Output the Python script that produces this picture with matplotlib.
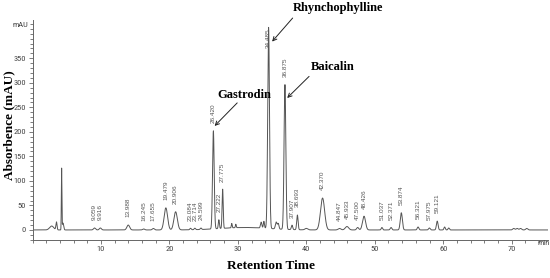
import numpy as np
import matplotlib
matplotlib.use("Agg")
import matplotlib.pyplot as plt
from matplotlib.ticker import MultipleLocator
from matplotlib import font_manager as fm

# Peak table: retention time (min), height (mAU), width (sigma, min)
peak_rt = [2.8, 3.5, 4.25, 4.45, 9.059, 9.916, 13.988, 16.245, 17.655, 19.479, 20.906,
           23.084, 23.714, 24.599, 26.420, 27.222, 27.775, 29.1, 29.7, 31.0, 33.4, 33.8,
           34.485, 35.6, 35.9, 36.875, 37.907, 38.693, 40.0, 42.370, 44.847, 45.933,
           47.500, 48.426, 51.037, 52.371, 53.874, 56.321, 57.975, 59.121, 60.2, 60.8,
           70.3, 70.8, 71.3, 72.2]
peak_height = [8, 16, 125, 14, 4, 4, 10, 2, 3, 45, 37,
               3, 3, 3, 200, 18, 80, 9, 7, 5, 12, 14,
               410, 14, 11, 295, 9, 30, 3, 65, 3, 7,
               5, 28, 5, 5, 35, 6, 4, 18, 6, 4,
               3, 3, 3, 3]
peak_sigma = [0.3, 0.08, 0.04, 0.1, 0.15, 0.15, 0.2, 0.15, 0.15, 0.25, 0.25,
              0.1, 0.1, 0.1, 0.12, 0.08, 0.08, 0.06, 0.06, 3.5, 0.1, 0.08,
              0.13, 0.12, 0.1, 0.13, 0.1, 0.1, 0.2, 0.3, 0.2, 0.25,
              0.15, 0.22, 0.1, 0.12, 0.15, 0.12, 0.12, 0.12, 0.1, 0.1,
              0.15, 0.15, 0.15, 0.15]

# Labelled peaks
label_rt = [9.059, 9.916, 13.988, 16.245, 17.655, 19.479, 20.906, 23.084, 23.714, 24.599,
            26.420, 27.222, 27.775, 34.485, 36.875, 37.907, 38.693, 42.370, 44.847, 45.933,
            47.500, 48.426, 51.037, 52.371, 53.874, 56.321, 57.975, 59.121]
label_text = ["9.059", "9.916", "13.988", "16.245", "17.655", "19.479", "20.906", "23.084",
              "23.714", "24.599", "26.420", "27.222", "27.775", "34.485", "36.875", "37.907",
              "38.693", "42.370", "44.847", "45.933", "47.500", "48.426", "51.037", "52.371",
              "53.874", "56.321", "57.975", "59.121"]

compounds = ["Gastrodin", "Rhynchophylline", "Baicalin"]

x_ticks = [10, 20, 30, 40, 50, 60, 70]
y_ticks = [0, 50, 100, 150, 200, 250, 300, 350]

# choose a narrow font for tick labels if available
available = {f.name for f in fm.fontManager.ttflist}
narrow_props = None
for cand in ["Liberation Sans Narrow", "Arial Narrow", "Roboto Condensed",
             "Open Sans Condensed", "Noto Sans Condensed"]:
    if cand in available:
        narrow_props = dict(family=[cand, "DejaVu Sans"], stretch="normal", size=6)
        break
if narrow_props is None:
    cond = [f for f in fm.fontManager.ttflist if f.name == "DejaVu Sans" and
            ("ondensed" in f.fname)]
    if cond:
        narrow_props = dict(family=["DejaVu Sans"], stretch="condensed", size=5.5)
    else:
        narrow_props = dict(family=["Liberation Sans", "DejaVu Sans"], stretch="normal", size=5.3)

t = np.linspace(0, 75.3, 8000)
signal = np.zeros_like(t)
for rt, h, s in zip(peak_rt, peak_height, peak_sigma):
    signal += h * np.exp(-0.5 * ((t - rt) / s) ** 2)

W, H = 550, 278
fig = plt.figure(figsize=(W / 100, H / 100), dpi=100)
ax = fig.add_axes([32.5 / W, 1 - 240 / H, (548 - 32.5) / W, (240 - 20) / H])
ax.plot(t, signal, color="#555555", lw=0.7)
ax.set_xlim(0, 75.3)
ax.set_ylim(-20.5, 428)

for s in ["top", "right"]:
    ax.spines[s].set_visible(False)
for s in ["left", "bottom"]:
    ax.spines[s].set_color("#666666")
    ax.spines[s].set_linewidth(0.7)

ax.set_xticks(x_ticks)
ax.set_yticks(y_ticks)
ax.xaxis.set_minor_locator(MultipleLocator(2))
ax.yaxis.set_minor_locator(MultipleLocator(10))
ax.tick_params(axis="both", which="both", direction="out", color="#666666", width=0.6,
               labelcolor="#444444", pad=1.5)
ax.tick_params(which="major", length=3)
ax.tick_params(which="minor", length=2)
for lab in ax.get_xticklabels() + ax.get_yticklabels():
    lab.set_fontfamily(narrow_props["family"])
    lab.set_fontstretch(narrow_props["stretch"])
    lab.set_fontsize(narrow_props["size"])

# unit labels
ax.text(74.6, -20.5, "min", ha="center", va="top", color="#444444", clip_on=False,
        fontsize=narrow_props["size"], family=narrow_props["family"],
        fontstretch=narrow_props["stretch"])
ax.annotate("mAU", xy=(0, 418), xycoords="data", xytext=(-3, 0), textcoords="offset points",
            ha="right", va="center", color="#444444", annotation_clip=False,
            fontsize=narrow_props["size"], family=narrow_props["family"],
            fontstretch=narrow_props["stretch"])

# peak labels
for rt, txt in zip(label_rt, label_text):
    h = np.interp(rt, t, signal)
    base = min(h, 355)
    ax.annotate(txt, xy=(rt, base), xytext=(0, 5.5), textcoords="offset points",
                rotation=90, ha="center", va="bottom", fontsize=4.6, color="#555555",
                family=["Liberation Sans", "DejaVu Sans"], annotation_clip=False)

# compound annotations
serif = ["Liberation Serif", "DejaVu Serif"]
comp_text_pos = [(30.9, 275), (44.6, 452), (43.9, 333)]
comp_arrow_start = [(29.9, 259), (38.0, 432), (40.4, 313)]
comp_arrow_tip = [(26.6, 212), (35.0, 384), (37.2, 269)]
for name, tp, st, tip in zip(compounds, comp_text_pos, comp_arrow_start, comp_arrow_tip):
    ax.text(tp[0], tp[1], name, ha="center", va="center", fontsize=9, fontweight="bold",
            family=serif, clip_on=False)
    ax.annotate("", xy=tip, xytext=st, annotation_clip=False,
                arrowprops=dict(arrowstyle="->", lw=0.7, color="#222222",
                                shrinkA=0, shrinkB=0, mutation_scale=7))

fig.text(9 / W, 1 - 125 / H, "Absorbence (mAU)", rotation=90, ha="center", va="center",
         fontsize=9.5, fontweight="bold", family=serif)
fig.text(271 / W, 1 - 266 / H, "Retention Time", ha="center", va="center",
         fontsize=9.5, fontweight="bold", family=serif)

fig.savefig("out.png", dpi=100)
